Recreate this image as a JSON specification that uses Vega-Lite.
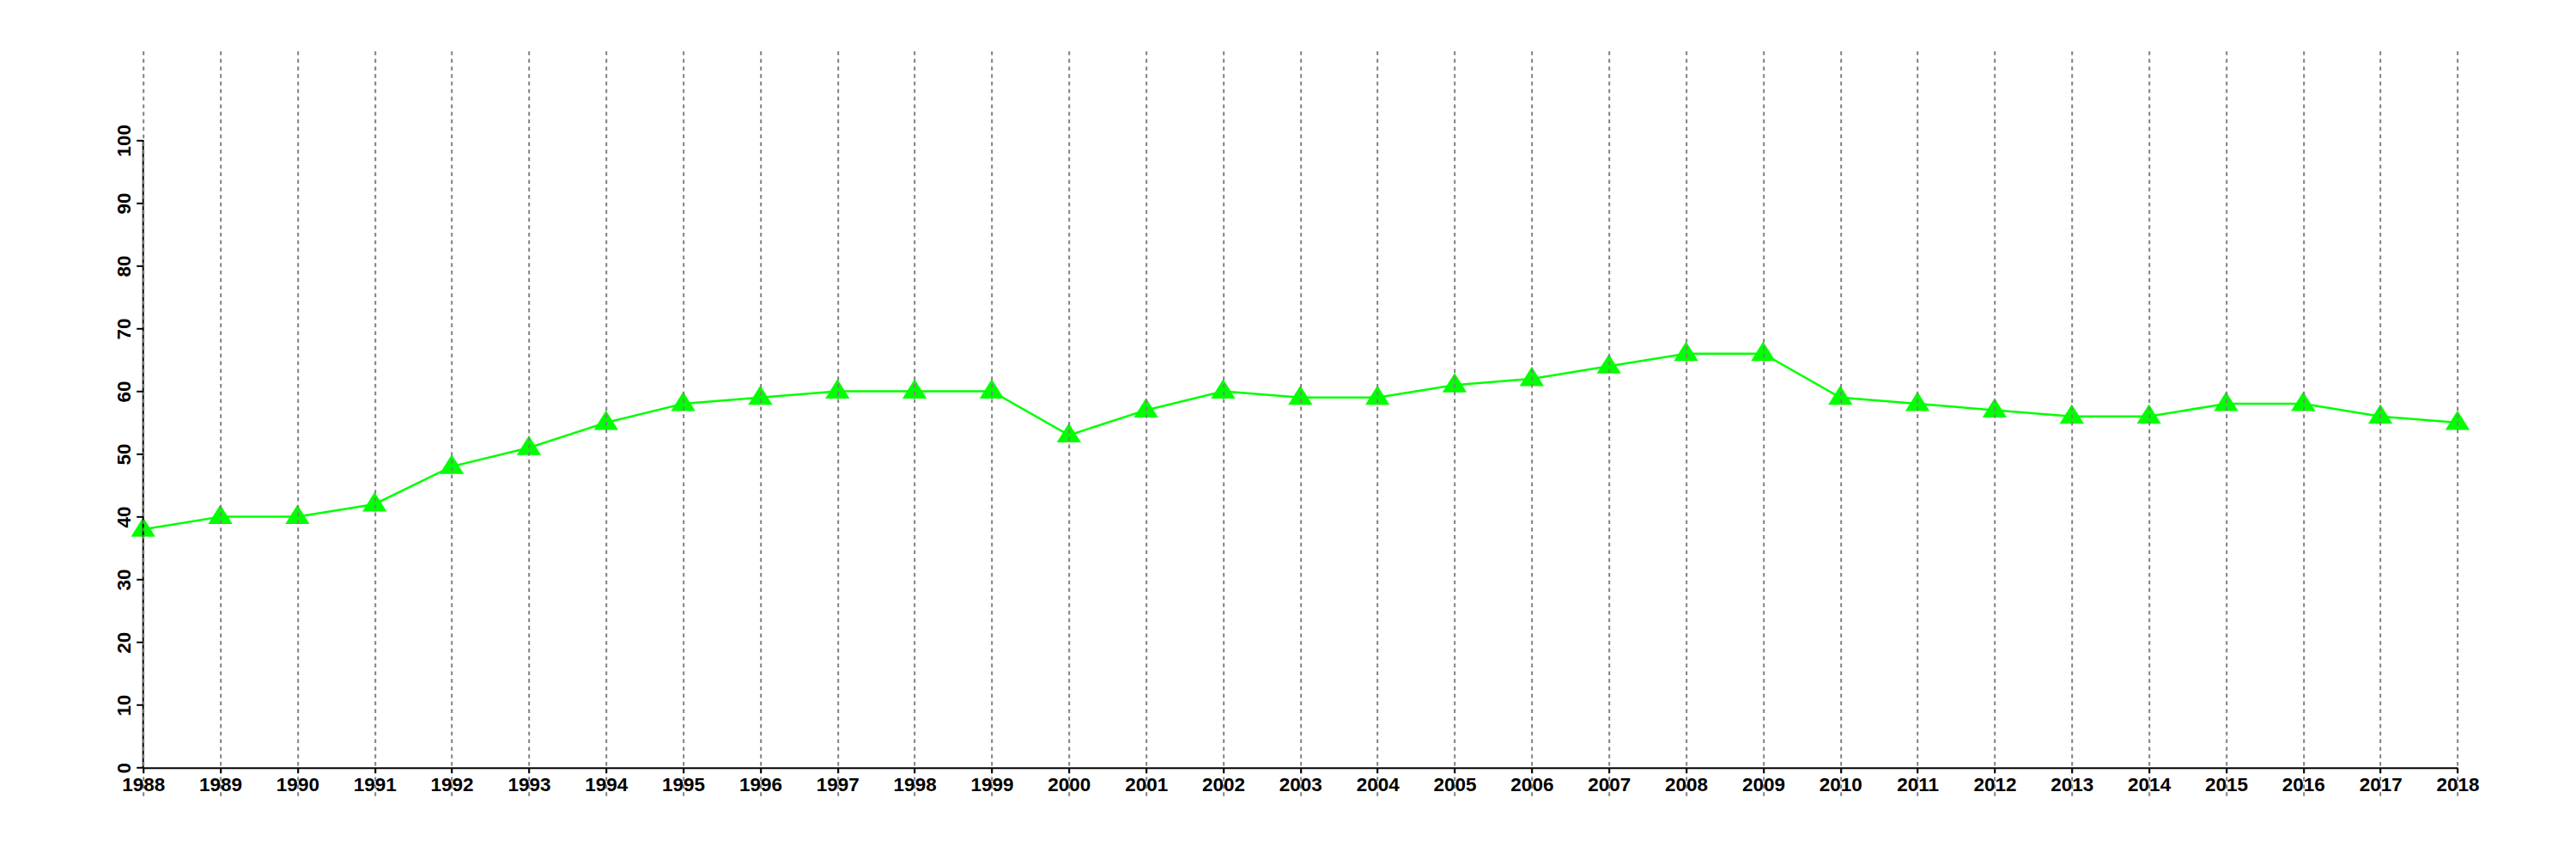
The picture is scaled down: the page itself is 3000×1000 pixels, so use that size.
{
  "$schema": "https://vega.github.io/schema/vega-lite/v6.json",
  "width": 2695.3,
  "height": 867.7,
  "autosize": {"type": "none"},
  "padding": {"left": 166.7, "top": 59.3, "right": 138, "bottom": 73},
  "background": "white",
  "config": {"view": {"stroke": null}},
  "data": {
    "values": [
      {"year": 1988, "value": 38}, {"year": 1989, "value": 40}, {"year": 1990, "value": 40},
      {"year": 1991, "value": 42}, {"year": 1992, "value": 48}, {"year": 1993, "value": 51},
      {"year": 1994, "value": 55}, {"year": 1995, "value": 58}, {"year": 1996, "value": 59},
      {"year": 1997, "value": 60}, {"year": 1998, "value": 60}, {"year": 1999, "value": 60},
      {"year": 2000, "value": 53}, {"year": 2001, "value": 57}, {"year": 2002, "value": 60},
      {"year": 2003, "value": 59}, {"year": 2004, "value": 59}, {"year": 2005, "value": 61},
      {"year": 2006, "value": 62}, {"year": 2007, "value": 64}, {"year": 2008, "value": 66},
      {"year": 2009, "value": 66}, {"year": 2010, "value": 59}, {"year": 2011, "value": 58},
      {"year": 2012, "value": 57}, {"year": 2013, "value": 56}, {"year": 2014, "value": 56},
      {"year": 2015, "value": 58}, {"year": 2016, "value": 58}, {"year": 2017, "value": 56},
      {"year": 2018, "value": 55}
    ]
  },
  "layer": [
    {
      "mark": {"type": "line", "color": "#00ff00", "strokeWidth": 2.5, "clip": false},
      "encoding": {
        "x": {
          "field": "year", "type": "quantitative",
          "scale": {"domain": [1988, 2018], "nice": false, "zero": false},
          "axis": {
            "orient": "bottom", "offset": -33.3,
            "values": [1988,1989,1990,1991,1992,1993,1994,1995,1996,1997,1998,1999,2000,2001,2002,2003,2004,2005,2006,2007,2008,2009,2010,2011,2012,2013,2014,2015,2016,2017,2018],
            "format": "d", "title": null,
            "grid": true, "gridColor": "#808080", "gridDash": [4.5, 4.3], "gridWidth": 2, "gridOpacity": 1,
            "domain": true, "domainColor": "black", "domainWidth": 2,
            "ticks": true, "tickColor": "black", "tickWidth": 2, "tickSize": 6,
            "labelPadding": 3, "labelFont": "Liberation Sans", "labelFontWeight": "bold",
            "labelFontSize": 22.5, "labelColor": "black", "labelFlush": false,
            "labelOverlap": false, "labelBound": false, "zindex": 1
          }
        },
        "y": {
          "field": "value", "type": "quantitative",
          "scale": {"domain": [-4.56, 114.25], "nice": false, "zero": false},
          "axis": {
            "orient": "left", "values": [0,10,20,30,40,50,60,70,80,90,100],
            "title": null, "grid": false, "domain": false,
            "ticks": true, "tickColor": "black", "tickWidth": 2, "tickSize": 8,
            "labelAngle": 270, "labelAlign": "center", "labelBaseline": "bottom",
            "labelPadding": 2, "labelFont": "Liberation Sans", "labelFontWeight": "bold",
            "labelFontSize": 22.5, "labelColor": "black", "labelOverlap": false,
            "labelBound": false, "labelFlush": false, "zindex": 1
          }
        }
      }
    },
    {
      "mark": {"type": "point", "shape": "M0,-1L-1,0.6L1,0.6Z", "filled": true, "color": "#00ff00", "opacity": 1, "size": 801, "strokeWidth": 0, "clip": false},
      "encoding": {
        "x": {"field": "year", "type": "quantitative", "scale": {"domain": [1988, 2018], "nice": false, "zero": false}},
        "y": {"field": "value", "type": "quantitative", "scale": {"domain": [-4.56, 114.25], "nice": false, "zero": false}}
      }
    },
    {
      "data": {"values": [{"axis": "y"}]},
      "mark": {"type": "rule", "color": "black", "strokeWidth": 2},
      "encoding": {
        "x": {"datum": 1988, "type": "quantitative", "scale": {"domain": [1988, 2018], "nice": false, "zero": false}},
        "y": {"datum": 0, "type": "quantitative", "scale": {"domain": [-4.56, 114.25], "nice": false, "zero": false}},
        "y2": {"datum": 100}
      }
    }
  ]
}
